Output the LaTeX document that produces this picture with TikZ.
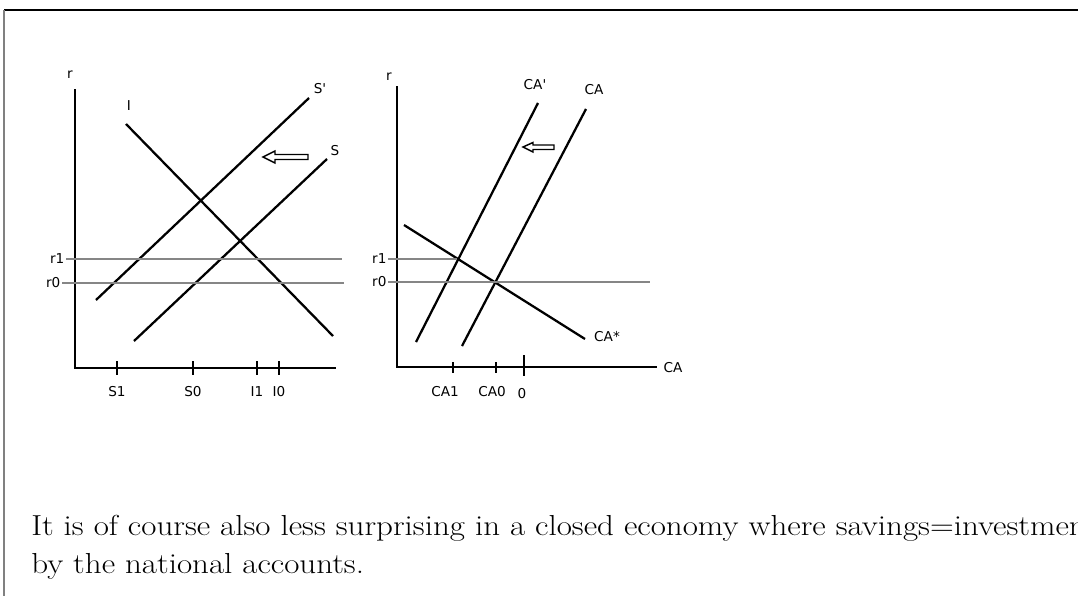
\documentclass[tikz,border=0pt]{standalone}
\usepackage{fontspec}
\newfontfamily\chartfont{DejaVu Sans}
\begin{document}
\begin{tikzpicture}[
    x=0.75pt,
    y=-0.75pt,
    curve/.style={line width=1.7pt},
    axis/.style={line width=2.2pt},
    level/.style={line width=1.8pt, color=gray!95},
    tick/.style={line width=1.7pt},
    lbl/.style={font=\chartfont\fontsize{10.2}{12}\selectfont, inner sep=1pt},
    body/.style={anchor=base west, inner sep=0pt, font=\fontsize{21.7}{28.5}\selectfont},
    shiftarrow/.style={line width=1.1pt, fill=white, line join=miter}
]
\clip (0,0) rectangle (1078,596);
\fill[white] (0,0) rectangle (1078,596);

% Page frame
\draw[line width=1.2pt] (4,10) -- (1078,10);
\draw[gray, line width=1pt] (4,10) -- (4,596);

% Left panel: saving and investment
\coordinate (oL) at (75,368);
\coordinate (yL) at (75,89);
\coordinate (xL) at (336,368);
\draw[axis] (yL) -- (oL) -- (xL);
\node[lbl] (rL) at (70,75) {r};

\coordinate (Ia) at (126,124);
\coordinate (Ib) at (333,336);
\draw[curve] (Ia) -- (Ib);
\node[lbl] (Ilbl) at (129,106) {I};

\coordinate (S1a) at (96,300);
\coordinate (S1b) at (309,98);
\draw[curve] (S1a) -- (S1b);
\node[lbl] (S1lbl) at (320,89) {S'};

\coordinate (S0a) at (134,341);
\coordinate (S0b) at (327,159);
\draw[curve] (S0a) -- (S0b);
\node[lbl] (S0lbl) at (335,151) {S};

% Interest rates
\coordinate (r1La) at (66,259);
\coordinate (r1Lb) at (342,259);
\draw[level] (r1La) -- (r1Lb);
\node[lbl, anchor=east] (r1L) at (r1La) {r1};
\coordinate (r0La) at (62,283);
\coordinate (r0Lb) at (344,283);
\draw[level] (r0La) -- (r0Lb);
\node[lbl, anchor=east] (r0L) at (r0La) {r0};

% Ticks
\foreach \x/\t/\name in {117/S1/tS1, 193/S0/tS0, 257/I1/tI1, 279/I0/tI0} {
  \draw[tick] (\x,361) -- (\x,375);
  \node[lbl] (\name) at (\x,392) {\t};
}

% Shift of S
\draw[shiftarrow] (263,157) -- (275,151) -- (275,154.5) -- (308,154.5)
  -- (308,159.5) -- (275,159.5) -- (275,163) -- cycle;

% Right panel: current account
\coordinate (oR) at (397,367);
\coordinate (yR) at (397,86);
\coordinate (xR) at (657,367);
\draw[axis] (yR) -- (oR) -- (xR);
\node[lbl] (rR) at (389,77) {r};
\node[lbl, anchor=west] (CAaxis) at (662,368) {CA};

\coordinate (CA1a) at (416,342);
\coordinate (CA1b) at (538,103);
\draw[curve] (CA1a) -- (CA1b);
\node[lbl] (CA1lbl) at (535,85) {CA'};

\coordinate (CA0a) at (462,346);
\coordinate (CA0b) at (586,109);
\draw[curve] (CA0a) -- (CA0b);
\node[lbl] (CA0lbl) at (594,90) {CA};

\coordinate (CAsa) at (404,225);
\coordinate (CAsb) at (585,339);
\draw[curve] (CAsa) -- (CAsb);
\node[lbl] (CAslbl) at (607,337) {CA*};

% Interest rates
\coordinate (r1Ra) at (388,259);
\coordinate (r1Rb) at (457,259);
\draw[level] (r1Ra) -- (r1Rb);
\node[lbl, anchor=east] (r1R) at (r1Ra) {r1};
\coordinate (r0Ra) at (388,282);
\coordinate (r0Rb) at (650,282);
\draw[level] (r0Ra) -- (r0Rb);
\node[lbl, anchor=east] (r0R) at (r0Ra) {r0};

% Ticks
\draw[tick] (453,362) -- (453,373);
\draw[tick] (496,362) -- (496,373);
\draw[tick] (524,355) -- (524,376);
\node[lbl] (tCA1) at (445,392) {CA1};
\node[lbl] (tCA0) at (492,392) {CA0};
\node[lbl] (tZero) at (522,394) {0};

% Shift of CA
\draw[shiftarrow] (523,147) -- (533,142.5) -- (533,145) -- (554,145)
  -- (554,149.5) -- (533,149.5) -- (533,152) -- cycle;

% Text below the figure
\node[body] (line1) at (31,535)
  {\scalebox{1.14}[1]{It is of course also less surprising in a closed economy where savings=investmen}};
\node[body] (line2) at (31,573)
  {\scalebox{1.14}[1]{by the national accounts.}};

\end{tikzpicture}
\end{document}
